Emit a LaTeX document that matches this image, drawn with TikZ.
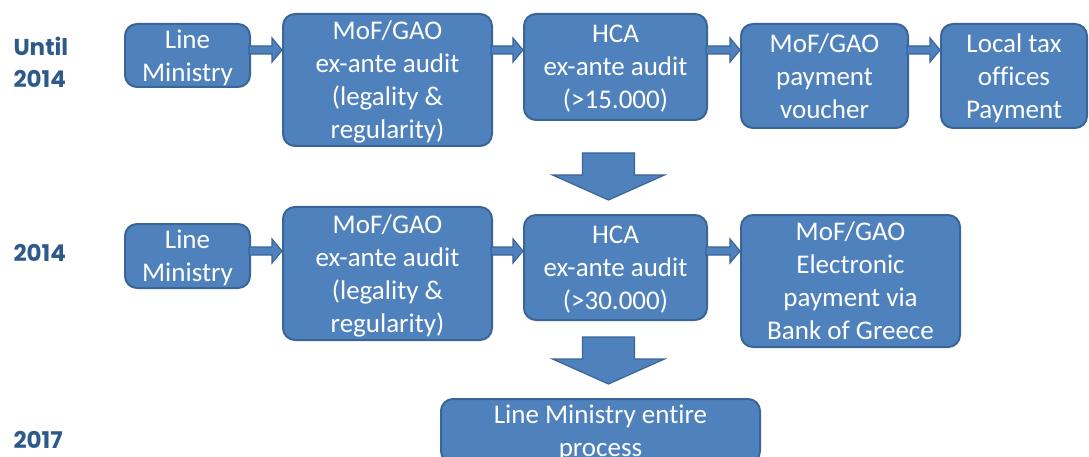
\documentclass[tikz,border=0pt]{standalone}
\usepackage{fontspec}
\setmainfont{Carlito}[Ligatures=NoCommon]
\newfontfamily\yearfont{Poppins}
\usetikzlibrary{calc}

\definecolor{boxfill}{HTML}{4F81BD}
\definecolor{boxline}{HTML}{3A6597}
\definecolor{yearblue}{HTML}{2E5A8A}

\tikzset{
  stage/.style={draw=boxline, line width=2pt, fill=boxfill, rounded corners=12pt,
    text=white, align=center, inner sep=0pt, text depth=0pt,
    font=\fontsize{27}{33}\selectfont},
  blockarrow/.style={draw=boxline, line width=1.2pt, fill=boxfill, line join=miter},
  year/.style={text=yearblue, font=\yearfont\bfseries\fontsize{23}{32}\selectfont,
    align=left, anchor=west}
}

\newcommand{\rightflow}[3]{%
  \draw[blockarrow] let \p1=(#1.east), \p2=(#2.west), \p3=(#3) in
    (\x1-2pt,\y3+4pt) -- (\x2-10pt,\y3+4pt) -- (\x2-10pt,\y3+12pt) -- (\x2,\y3)
    -- (\x2-10pt,\y3-12pt) -- (\x2-10pt,\y3-4pt) -- (\x1-2pt,\y3-4pt) -- cycle;}
\newcommand{\downflow}[1]{%
  \draw[blockarrow] let \p1=(#1) in
    (\x1-26pt,\y1) -- (\x1+26pt,\y1) -- (\x1+26pt,\y1-22pt) -- (\x1+56pt,\y1-22pt)
    -- (\x1,\y1-47pt) -- (\x1-56pt,\y1-22pt) -- (\x1-26pt,\y1-22pt) -- cycle;}

\begin{document}
\begin{tikzpicture}[x=1pt, y=-1pt]
    \useasboundingbox (0,0) rectangle (1089,457);

    \coordinate (r1) at (0,50);
    \coordinate (r2) at (0,251);
    \coordinate (d1) at (608.5,153);
    \coordinate (d2) at (608.5,337);

    \node[year] (until) at (10,62) {Until\\2014};
    \node[year] (y2014) at (10,253) {2014};
    \node[year] (y2017) at (10,440) {2017};

    \node[stage, minimum width=125pt, minimum height=63pt] (lm1) at (187.5,55.5) {Line\\Ministry};
    \node[stage, minimum width=209pt, minimum height=132pt] (gao1) at (387.5,80) {MoF/GAO\\ex-ante audit\\(legality \&\\regularity)};
    \node[stage, minimum width=183pt, minimum height=106pt, text depth=-6pt] (hca1) at (615.5,67) {HCA\\ex-ante audit\\(>15.000)};
    \node[stage, minimum width=167pt, minimum height=104pt] (pay1) at (824.5,76) {MoF/GAO\\payment\\voucher};
    \node[stage, minimum width=146pt, minimum height=104pt] (tax1) at (1014,76) {Local tax\\offices\\Payment};

    \node[stage, minimum width=125pt, minimum height=64pt] (lm2) at (187.5,256) {Line\\Ministry};
    \node[stage, minimum width=209pt, minimum height=133pt] (gao2) at (387.5,273.5) {MoF/GAO\\ex-ante audit\\(legality \&\\regularity)};
    \node[stage, minimum width=183pt, minimum height=105pt, text depth=-6pt] (hca2) at (615.5,267.5) {HCA\\ex-ante audit\\(>30.000)};
    \node[stage, minimum width=219pt, minimum height=132pt] (pay2) at (850.5,281) {MoF/GAO\\Electronic\\payment via\\Bank of Greece};

    \node[stage, minimum width=319pt, minimum height=64pt] (lm3) at (600.5,431) {Line Ministry entire\\process};

    \rightflow{lm1}{gao1}{r1}
    \rightflow{gao1}{hca1}{r1}
    \rightflow{hca1}{pay1}{r1}
    \rightflow{pay1}{tax1}{r1}
    \rightflow{lm2}{gao2}{r2}
    \rightflow{gao2}{hca2}{r2}
    \rightflow{hca2}{pay2}{r2}

    \downflow{d1}
    \downflow{d2}
\end{tikzpicture}
\end{document}
